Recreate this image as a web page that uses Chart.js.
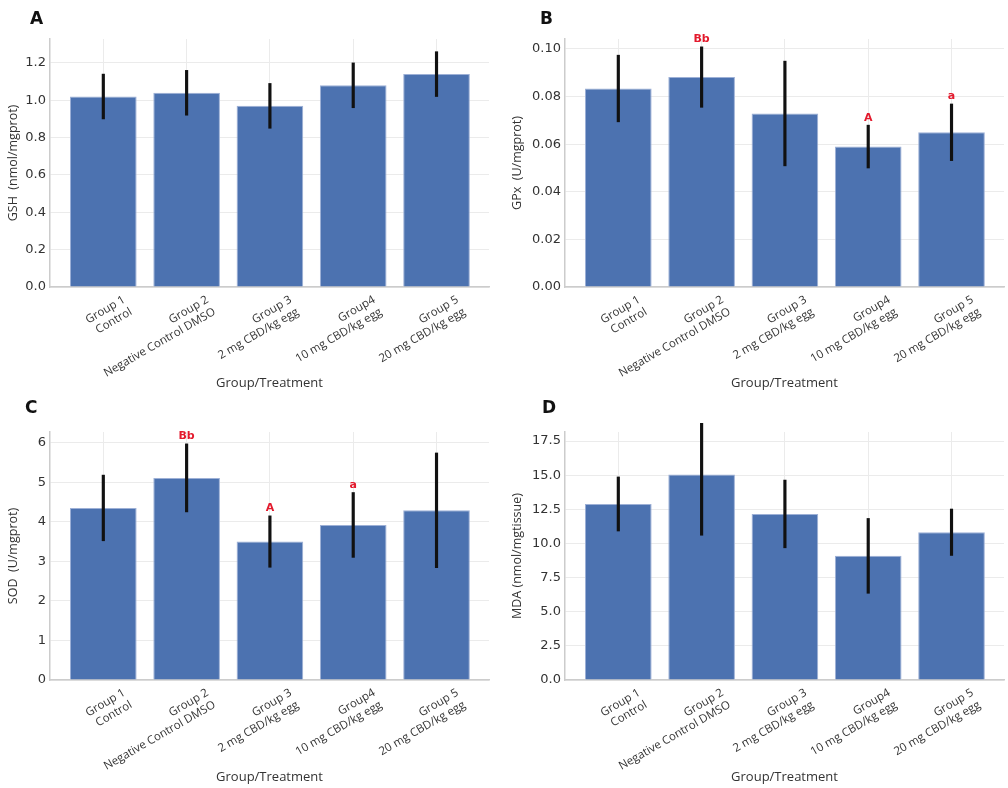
<!DOCTYPE html>
<html><head><meta charset="utf-8">
<script src="https://cdn.jsdelivr.net/npm/chart.js@4.4.1/dist/chart.umd.min.js"></script>
<style>
body{margin:0;background:#fff;width:1008px;height:788px;position:relative;overflow:hidden}
.panel{position:absolute;width:504px;height:394px}
.letter{position:absolute;font:bold 17px "DejaVu Sans",sans-serif;color:#111;line-height:1}
canvas{position:absolute;left:0;top:0}
</style></head><body>
<div class="panel" style="left:0;top:0"><canvas id="cA" width="504" height="394"></canvas></div>
<div class="panel" style="left:504px;top:0"><canvas id="cB" width="504" height="394"></canvas></div>
<div class="panel" style="left:0;top:394px"><canvas id="cC" width="504" height="394"></canvas></div>
<div class="panel" style="left:504px;top:394px"><canvas id="cD" width="504" height="394"></canvas></div>
<div class="letter" style="left:30px;top:10px">A</div>
<div class="letter" style="left:540px;top:10px">B</div>
<div class="letter" style="left:25px;top:399px">C</div>
<div class="letter" style="left:542px;top:399px">D</div>
<script>
const categories = [
  ['Group 1', 'Control'],
  ['Group 2', 'Negative Control DMSO'],
  ['Group 3', '2 mg CBD/kg egg'],
  ['Group4', '10 mg CBD/kg egg'],
  ['Group 5', '20 mg CBD/kg egg']
];
const xTitle = 'Group/Treatment';

const gshMean = [1.02, 1.04, 0.97, 1.08, 1.14];
const gshSd   = [0.12, 0.12, 0.12, 0.12, 0.12];
const gshMarks = ['', '', '', '', ''];

const gpxMean = [0.0834, 0.0882, 0.0729, 0.0590, 0.0650];
const gpxSd   = [0.0140, 0.0127, 0.0220, 0.0090, 0.0119];
const gpxMarks = ['', 'Bb', '', 'A', 'a'];

const sodMean = [4.35, 5.11, 3.50, 3.92, 4.29];
const sodSd   = [0.83, 0.86, 0.65, 0.82, 1.45];
const sodMarks = ['', 'Bb', 'A', 'a', ''];

const mdaMean = [12.89, 15.04, 12.16, 9.09, 10.82];
const mdaSd   = [1.98, 4.44, 2.48, 2.74, 1.70];
const mdaMarks = ['', '', '', '', ''];

const BAR = '#4c72b0';
const GRID = '#ebebeb';
const AXIS = '#cccccc';
const TXT = '#333333';

const marksPlugin = {
  id: 'marks',
  afterDatasetsDraw(chart) {
    const marks = chart.options.plugins.marks.list;
    const errs = chart.data.datasets[1].data;
    const ctx = chart.ctx, xs = chart.scales.x, ys = chart.scales.y;
    ctx.save();
    ctx.fillStyle = '#e31a2d';
    ctx.font = 'bold 11px "DejaVu Sans", sans-serif';
    ctx.textAlign = 'center';
    ctx.textBaseline = 'bottom';
    marks.forEach((m, i) => {
      if (!m) return;
      const x = xs.getPixelForValue(errs[i].x);
      const y = ys.getPixelForValue(errs[i].y[1]) - 2;
      ctx.fillText(m, x, y);
    });
    ctx.restore();
  }
};

function makeChart(id, means, sds, marks, yTitle, yMax, step, dec, area) {
  const H = 394;
  new Chart(document.getElementById(id), {
    type: 'bar',
    data: {
      datasets: [
        {
          data: means.map((m, i) => ({x: i, y: m})),
          backgroundColor: BAR,
          borderColor: '#9db0d6',
          borderWidth: 1,
          grouped: false,
          categoryPercentage: 1,
          barPercentage: 0.8,
          order: 2
        },
        {
          data: means.map((m, i) => ({x: i, y: [m - sds[i], m + sds[i]]})),
          backgroundColor: '#111111',
          borderWidth: 0,
          grouped: false,
          barThickness: 2.5,
          clip: {top: 9, left: 5, right: 5, bottom: 5},
          order: 1
        }
      ]
    },
    options: {
      responsive: false,
      animation: false,
      devicePixelRatio: 1,
      layout: {padding: {top: area.top, right: 504 - area.right, left: 0, bottom: 0}},
      plugins: {legend: {display: false}, tooltip: {enabled: false}, marks: {list: marks}},
      scales: {
        x: {
          type: 'linear',
          offset: false,
          min: -0.64, max: 4.63,
          afterBuildTicks: s => { s.ticks = [0, 1, 2, 3, 4].map(v => ({value: v})); },
          afterFit: s => { s.height = H - area.bottom; },
          ticks: {
            callback: v => categories[v],
            autoSkip: false,
            minRotation: 30, maxRotation: 30,
            labelOffset: 21,
            padding: 6,
            font: {family: '"Open Sans", sans-serif', size: 11.5},
            color: TXT
          },
          grid: {color: GRID, drawTicks: false, offset: false},
          border: {color: AXIS, width: 1.5},
          title: {display: true, text: xTitle, color: TXT, font: {family: '"Open Sans", sans-serif', size: 13}, padding: {top: 0, bottom: 3}}
        },
        y: {
          min: 0, max: yMax,
          afterFit: s => { s.width = area.left; },
          ticks: {
            stepSize: step,
            includeBounds: false,
            callback: v => Number(v).toFixed(dec),
            font: {family: '"DejaVu Sans", sans-serif', size: 13},
            color: TXT,
            padding: 4
          },
          grid: {color: GRID, drawTicks: false},
          border: {color: AXIS, width: 1.5},
          title: {display: true, text: yTitle, color: TXT, font: {family: '"Open Sans", sans-serif', size: 12.5}, padding: {top: 6, bottom: 2}}
        }
      }
    },
    plugins: [marksPlugin]
  });
}

makeChart('cA', gshMean, gshSd, gshMarks, 'GSH  (nmol/mgprot)', 1.328, 0.2, 1, {left: 50, right: 489, top: 39, bottom: 287});
makeChart('cB', gpxMean, gpxSd, gpxMarks, 'GPx  (U/mgprot)', 0.1042, 0.02, 2, {left: 61, right: 500, top: 39, bottom: 287});
makeChart('cC', sodMean, sodSd, sodMarks, 'SOD  (U/mgprot)', 6.27, 1, 0, {left: 50, right: 489, top: 38, bottom: 286});
makeChart('cD', mdaMean, mdaSd, mdaMarks, 'MDA (nmol/mgtissue)', 18.16, 2.5, 1, {left: 61, right: 500, top: 38, bottom: 286});
</script>
</body></html>
